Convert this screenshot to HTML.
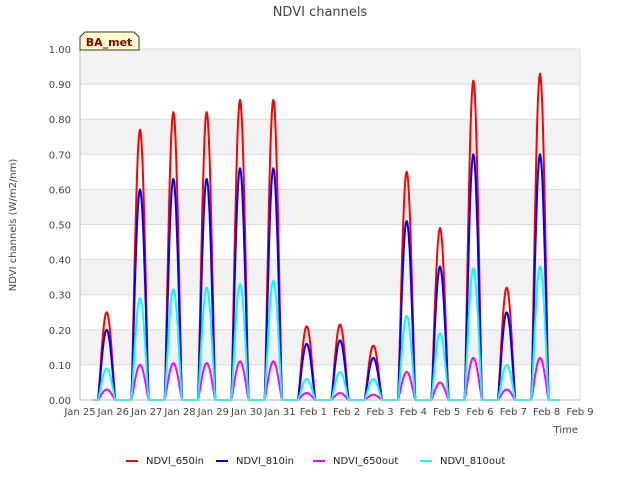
<!DOCTYPE html>
<html><head><meta charset="utf-8"><style>
body{margin:0;background:#fff;font-family:"DejaVu Sans","Liberation Sans",sans-serif}
</style></head><body>
<svg id="c" width="640" height="480" xmlns="http://www.w3.org/2000/svg" font-family="DejaVu Sans, Liberation Sans, sans-serif">
<text x="320" y="16" text-anchor="middle" font-size="13" fill="#444">NDVI channels</text>
<g id="bands"></g><g id="grid"></g><g id="series"></g><g id="axes"></g>
<text x="16" y="225" transform="rotate(-90 16 225)" text-anchor="middle" font-size="10" fill="#444">NDVI channels (W/m2/nm)</text>
<text x="578" y="433" text-anchor="end" font-size="10" fill="#444">Time</text>
<g>
<path d="M80,50 L80,37 L85,32 L134,32 L139,37 L139,50 Z" fill="#ffffcc" stroke="#333" stroke-width="1"/>
<text x="109" y="46" text-anchor="middle" font-size="11" font-weight="bold" fill="#8b0000">BA_met</text>
</g>
<g id="legend"></g>
</svg>
<script>
const dayLabels=["Jan 25","Jan 26","Jan 27","Jan 28","Jan 29","Jan 30","Jan 31","Feb 1","Feb 2","Feb 3","Feb 4","Feb 5","Feb 6","Feb 7","Feb 8","Feb 9"];
const yTicks=[0,0.1,0.2,0.3,0.4,0.5,0.6,0.7,0.8,0.9,1.0];
const seriesNames=["NDVI_650in","NDVI_810in","NDVI_650out","NDVI_810out"];
const seriesColors=["#ff0000","#0000ff","#ff00ff","#00ffff"];
const peak650in=[0.25,0.77,0.82,0.82,0.855,0.855,0.21,0.215,0.155,0.65,0.49,0.91,0.32,0.93];
const peak810in=[0.20,0.60,0.63,0.63,0.66,0.66,0.16,0.17,0.12,0.51,0.38,0.70,0.25,0.70];
const peak650out=[0.03,0.10,0.105,0.105,0.11,0.11,0.02,0.02,0.015,0.08,0.05,0.12,0.03,0.12];
const peak810out=[0.09,0.29,0.315,0.32,0.33,0.34,0.06,0.08,0.06,0.24,0.19,0.375,0.10,0.38];
const allPeaks=[peak650in,peak810in,peak650out,peak810out];
const NS="http://www.w3.org/2000/svg";
const X0=80,X1=580,Y0=400,Y1=49;
const xs=d=>X0+(X1-X0)*d/15;
const ys=v=>Y0-(Y0-Y1)*v/1.0;
function mk(t,a,p){const e=document.createElementNS(NS,t);for(const k in a)e.setAttribute(k,a[k]);p.appendChild(e);return e;}
const bands=document.getElementById('bands'),grid=document.getElementById('grid'),axes=document.getElementById('axes');
for(let i=0;i<10;i+=2){const r=mk('rect',{x:X0,y:ys(yTicks[10-i]),width:X1-X0,height:ys(yTicks[9-i])-ys(yTicks[10-i]),fill:'#f2f2f2'},bands);

}
yTicks.forEach(v=>{const l=mk('line',{x1:X0,x2:X1,y1:ys(v),y2:ys(v),stroke:'#dcdcdc'},grid);


const t=mk('text',{x:X0-9,y:ys(v)+4,'text-anchor':'end','font-size':10,fill:'#444'},axes);t.textContent=v.toFixed(2);

});
mk('line',{x1:X1,x2:X1,y1:Y1,y2:Y0,stroke:'#dcdcdc'},grid);
mk('line',{x1:X0,x2:X0,y1:Y1,y2:Y0,stroke:'#bbb'},axes);
mk('line',{x1:X0,x2:X1,y1:Y0,y2:Y0,stroke:'#bbb'},axes);
dayLabels.forEach((s,i)=>{const t=mk('text',{x:xs(i),y:Y0+15,'text-anchor':'middle','font-size':10,fill:'#444'},axes);t.textContent=s;

});
const sg=document.getElementById('series');
allPeaks.forEach((pk,si)=>{
  let d=`M${xs(0.4)},${ys(0)}`;
  pk.forEach((p,i)=>{const c=i+0.8,h=0.26;
    d+=` L${xs(c-h)},${ys(0)}`;
    for(let k=0;k<=24;k++){const u=k/24;const s=Math.pow(Math.sin(Math.PI*u),1.2);d+=` L${xs(c-h+2*h*u).toFixed(1)},${ys(p*s).toFixed(1)}`;}
  });
  d+=` L${xs(14.4)},${ys(0)}`;
  const path=mk('path',{d:d,fill:'none',stroke:seriesColors[si],'stroke-width':2,'stroke-linejoin':'round'},sg);
  
  
});
const lg=document.getElementById('legend');
const lx=[126,216,313,420];
seriesNames.forEach((n,i)=>{const g=mk('g',{},lg);


mk('line',{x1:lx[i],x2:lx[i]+12,y1:461,y2:461,stroke:seriesColors[i],'stroke-width':2},g);
const t=mk('text',{x:lx[i]+20,y:464,'font-size':10,fill:'#222'},g);t.textContent=n;});
</script>
</body></html>
